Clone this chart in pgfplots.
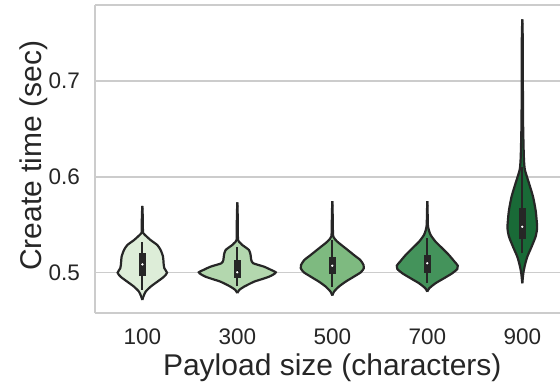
\documentclass[border=0pt]{standalone}
\usepackage{pgfplots}
\pgfplotsset{compat=1.18}
\usepackage{pgfplotstable}
\usepgfplotslibrary{fillbetween}
\usepackage{fontspec}
\setmainfont{Liberation Sans}
\definecolor{edge}{HTML}{262626}
\definecolor{gridc}{HTML}{CCCCCC}
\definecolor{gA}{HTML}{DDEDD8}
\definecolor{gB}{HTML}{B3D7AE}
\definecolor{gC}{HTML}{7EBA80}
\definecolor{gD}{HTML}{44935B}
\definecolor{gE}{HTML}{196A37}

\pgfplotstableread{
v w
0.5695 0
0.5601 0.004
0.5497 0.006
0.5414 0.008
0.5393 0.028
0.5340 0.087
0.5288 0.158
0.5236 0.193
0.5167 0.218
0.5098 0.224
0.5046 0.232
0.5000 0.260
0.4958 0.228
0.4906 0.158
0.4854 0.087
0.4802 0.035
0.4750 0.011
0.4716 0
}\vA
\pgfplotstableread{
v w
0.5733 0
0.5601 0.004
0.5445 0.006
0.5340 0.008
0.5309 0.032
0.5288 0.053
0.5236 0.123
0.5184 0.140
0.5132 0.147
0.5098 0.168
0.5063 0.281
0.5033 0.347
0.5004 0.405
0.4981 0.379
0.4958 0.334
0.4934 0.263
0.4906 0.176
0.4854 0.071
0.4820 0.021
0.4788 0
}\vB
\pgfplotstableread{
v w
0.5745 0
0.5601 0.004
0.5466 0.006
0.5375 0.011
0.5323 0.053
0.5254 0.140
0.5184 0.228
0.5132 0.295
0.5080 0.329
0.5046 0.332
0.5004 0.300
0.4958 0.226
0.4906 0.140
0.4854 0.068
0.4802 0.018
0.4762 0
}\vC
\pgfplotstableread{
v w
0.5745 0
0.5601 0.004
0.5497 0.006
0.5445 0.016
0.5393 0.035
0.5323 0.087
0.5254 0.158
0.5184 0.228
0.5115 0.287
0.5073 0.321
0.5039 0.316
0.4994 0.263
0.4942 0.176
0.4890 0.087
0.4838 0.021
0.4802 0
}\vD
\pgfplotstableread{
v w
0.7640 0
0.7424 0.005
0.7007 0.006
0.6590 0.008
0.6330 0.013
0.6174 0.018
0.6070 0.028
0.5931 0.071
0.5792 0.113
0.5653 0.140
0.5549 0.151
0.5463 0.156
0.5375 0.140
0.5271 0.098
0.5167 0.053
0.5080 0.028
0.4994 0.011
0.4890 0
}\vE

% #1 pos, #2 table, #3 colour, #4 whisker lo, #5 whisker hi, #6 q1, #7 q3, #8 median
\newcommand{\violin}[8]{%
  \addplot[draw=none, name path=L#1, smooth, tension=0.4] table[x expr=#1-\thisrow{w}, y=v]{#2};
  \addplot[draw=none, name path=R#1, smooth, tension=0.4] table[x expr=#1+\thisrow{w}, y=v]{#2};
  \addplot[fill=#3, draw=none] fill between[of=L#1 and R#1];
  \addplot[edge, line width=2.2bp, smooth, tension=0.4] table[x expr=#1-\thisrow{w}, y=v]{#2};
  \addplot[edge, line width=2.2bp, smooth, tension=0.4] table[x expr=#1+\thisrow{w}, y=v]{#2};
  \addplot[edge, line width=2bp] coordinates {(#1,#4) (#1,#5)};
  \addplot[edge, line width=7.5bp, line cap=butt] coordinates {(#1,#6) (#1,#7)};
  \addplot[only marks, mark=*, mark size=1.9bp, mark options={fill=white, draw=none}] coordinates {(#1,#8)};
}

\begin{document}
\begin{tikzpicture}
\begin{axis}[
  scale only axis, width=465bp, height=308bp,
  xmin=-0.498, xmax=4.397, ymin=0.458, ymax=0.7789,
  axis x line*=box, axis y line*=left,
  axis line style={gridc, line width=1.6bp},
  xtick={0,1,2,3,4}, xticklabels={100,300,500,700,900},
  ytick={0.5,0.6,0.7},
  major tick length=0pt,
  ymajorgrids, grid style={gridc, line width=1.6bp},
  /pgf/number format/assume math mode=true,
  /pgf/number format/fixed, /pgf/number format/precision=1,
  tick label style={font=\fontsize{22.5bp}{26bp}\selectfont, text=edge, inner sep=0pt},
  xticklabel style={anchor=base, yshift=-31bp},
  yticklabel style={anchor=east, xshift=-15bp},
  xlabel={Payload size (characters)}, ylabel={Create time (sec)},
  label style={font=\fontsize{30bp}{34bp}\selectfont, text=edge, inner sep=0pt},
  xlabel style={at={(axis description cs:0.5103,0)}, anchor=base, yshift=-62.5bp},
  ylabel style={at={(axis description cs:-0.1161,0.51)}, anchor=base},
  clip=false,
]
\coordinate (bl) at (rel axis cs:0,0);
\coordinate (tr) at (rel axis cs:1,1);
\violin{0}{\vA}{gA}{0.482}{0.5323}{0.4965}{0.5208}{0.5087}
\violin{1}{\vB}{gB}{0.4861}{0.5271}{0.4945}{0.5135}{0.5005}
\violin{2}{\vC}{gC}{0.4854}{0.5340}{0.4986}{0.5167}{0.5073}
\violin{3}{\vD}{gD}{0.4890}{0.5358}{0.5000}{0.5184}{0.5098}
\violin{4}{\vE}{gE}{0.5202}{0.6100}{0.5348}{0.5671}{0.5479}
\end{axis}
\pgfresetboundingbox
\path[use as bounding box] ([xshift=-95bp,yshift=-72bp]bl) rectangle ([yshift=5bp]tr);
\end{tikzpicture}
\end{document}
